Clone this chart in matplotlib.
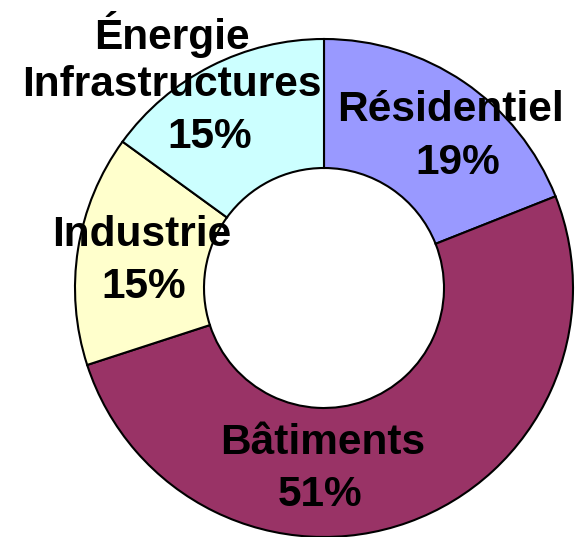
import matplotlib.pyplot as plt

labels = ['Résidentiel', 'Bâtiments', 'Industrie', 'Énergie\nInfrastructures']
shares = [19, 51, 15, 15]
colors = ['#9999FF', '#993366', '#FFFFCC', '#CCFFFF']
# text centres, in pixels from the top-left of the picture
name_pos = [(450, 110), (323, 443), (142, 235), (172, 58)]
value_pos = [(458, 163), (320, 495), (144, 287), (210, 137)]

W, H = 585, 537
fig = plt.figure(figsize=(W / 100, H / 100), dpi=100)
ax = fig.add_axes([0, 0, 1, 1])

ax.pie(shares, colors=colors, startangle=90, counterclock=False,
       center=(324, H - 288), radius=249,
       wedgeprops=dict(width=129, edgecolor='black', linewidth=1.5))

# pie() resets the limits, so set them afterwards
ax.set_xlim(0, W)
ax.set_ylim(0, H)
ax.set_aspect('equal')
ax.axis('off')

font = dict(fontsize=30.5, fontweight='bold', family='Liberation Sans')
for lab, val, (x, y), (vx, vy) in zip(labels, shares, name_pos, value_pos):
    ax.text(x, H - y, lab, ha='center', va='center', linespacing=1.25, **font)
    ax.text(vx, H - vy, f'{val}%', ha='center', va='center', **font)

fig.savefig('out.png', dpi=100)
